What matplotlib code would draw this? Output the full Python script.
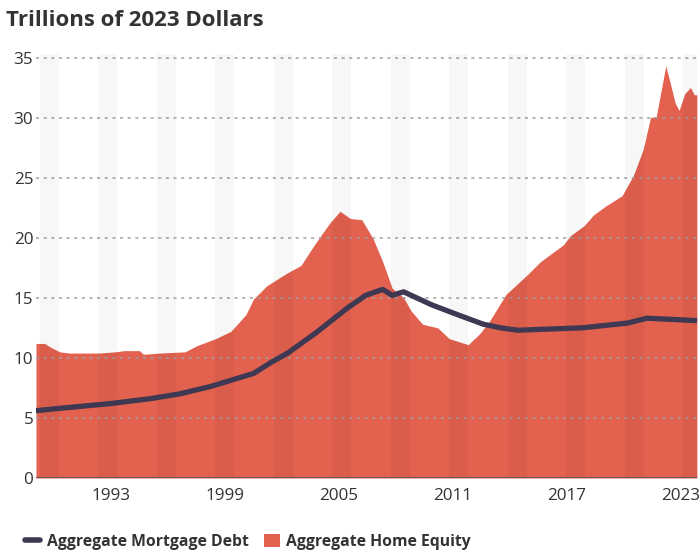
import matplotlib
matplotlib.use("Agg")
import matplotlib.pyplot as plt
from matplotlib.lines import Line2D
from matplotlib.patches import Patch
import numpy as np

# ---- data ----
equity_years = [1989.05, 1989.5, 1989.8, 1990.3, 1990.8, 1992.4, 1993.2, 1993.7, 1994.5, 1994.7,
                1995.6, 1996.9, 1997.5, 1998.5, 1999.3, 2000.1, 2000.5, 2001.2, 2002.2, 2003.0,
                2003.7, 2004.5, 2005.05, 2005.6, 2006.2, 2006.8, 2007.3, 2007.8, 2008.4, 2008.8,
                2009.4, 2010.2, 2010.8, 2011.8, 2012.4, 2012.9, 2013.8, 2014.9, 2015.6, 2016.8,
                2017.2, 2017.9, 2018.4, 2019.0, 2019.4, 2019.9, 2020.5, 2021.0, 2021.4, 2021.7,
                2022.0, 2022.2, 2022.4, 2022.7, 2022.9, 2023.2, 2023.5, 2023.7, 2023.84]
equity_vals = [11.2, 11.2, 10.9, 10.5, 10.4, 10.4, 10.5, 10.6, 10.6, 10.3,
               10.4, 10.5, 11.0, 11.6, 12.2, 13.6, 14.9, 16.0, 17.0, 17.7,
               19.4, 21.2, 22.2, 21.6, 21.5, 19.9, 18.0, 15.8, 15.0, 13.9,
               12.8, 12.5, 11.6, 11.1, 12.0, 13.0, 15.3, 16.9, 18.0, 19.4,
               20.2, 21.0, 21.9, 22.6, 23.0, 23.5, 25.2, 27.3, 30.0, 30.1,
               32.6, 34.3, 33.1, 31.2, 30.6, 32.0, 32.5, 31.9, 31.9]

debt_years = [1989.05, 1990.3, 1993.0, 1995.05, 1996.6, 1998.2, 2000.5, 2001.4, 2002.3, 2003.8,
              2005.4, 2006.4, 2007.3, 2007.8, 2008.4, 2009.9, 2011.4, 2012.6, 2013.5, 2014.4,
              2017.8, 2020.2, 2021.2, 2023.84]
debt_vals = [5.6, 5.8, 6.2, 6.6, 7.0, 7.6, 8.7, 9.6, 10.4, 12.1,
             14.1, 15.2, 15.7, 15.2, 15.5, 14.4, 13.5, 12.8, 12.5, 12.3,
             12.5, 12.9, 13.3, 13.1]

x_ticks = [1993, 1999, 2005, 2011, 2017, 2023]
y_ticks = [0, 5, 10, 15, 20, 25, 30, 35]
title = "Trillions of 2023 Dollars"
debt_label = "Aggregate Mortgage Debt"
equity_label = "Aggregate Home Equity"

RED = "#E2614F"
DARK = "#3E3852"
TXT = "#333333"
FONT = "Open Sans"

fig = plt.figure(figsize=(6.99, 5.56), dpi=100)
ax = fig.add_axes([0.0515, 0.1403, 0.9455, 0.7627])

# subtle vertical stripes (decoration)
for c in np.arange(1989.75, 2025, 3.08):
    ax.axvspan(c - 0.5, c + 0.5, color="black", alpha=0.03, lw=0, zorder=3)

ax.fill_between(equity_years, 0, equity_vals, color=RED, lw=0, zorder=1)
for yv in y_ticks[1:]:
    ax.axhline(yv, color="#a0a0a0", lw=1.1, ls=(0, (2, 3)), zorder=2)
ax.plot(debt_years, debt_vals, color=DARK, lw=3.8, zorder=4, solid_capstyle="round")
ax.axhline(0, color="#555555", lw=2, zorder=5)

ax.set_xlim(1989.05, 2023.84)
ax.set_ylim(0, 35.3)
ax.set_xticks(x_ticks)
ax.set_yticks(y_ticks)
ax.tick_params(length=0, labelsize=12.3, labelcolor=TXT, pad=7)
ax.tick_params(axis="y", pad=2)
for lab in ax.get_xticklabels() + ax.get_yticklabels():
    lab.set_fontfamily(FONT)
for s in ax.spines.values():
    s.set_visible(False)

fig.text(0.008, 0.963, title, fontsize=16, fontweight="bold", color=TXT,
         family=FONT, va="center", ha="left")

handles = [Line2D([0], [0], color=DARK, lw=4, solid_capstyle="round"),
           Patch(facecolor=RED, edgecolor="none")]
fig.legend(handles, [debt_label, equity_label], loc="center left",
           bbox_to_anchor=(0.015, 0.025), ncol=2, frameon=False,
           prop={"family": FONT, "weight": "bold", "size": 11.3},
           handlelength=1.0, handleheight=0.9, handletextpad=0.4, columnspacing=1.0,
           labelcolor=TXT)

fig.savefig("out.png", dpi=100)
